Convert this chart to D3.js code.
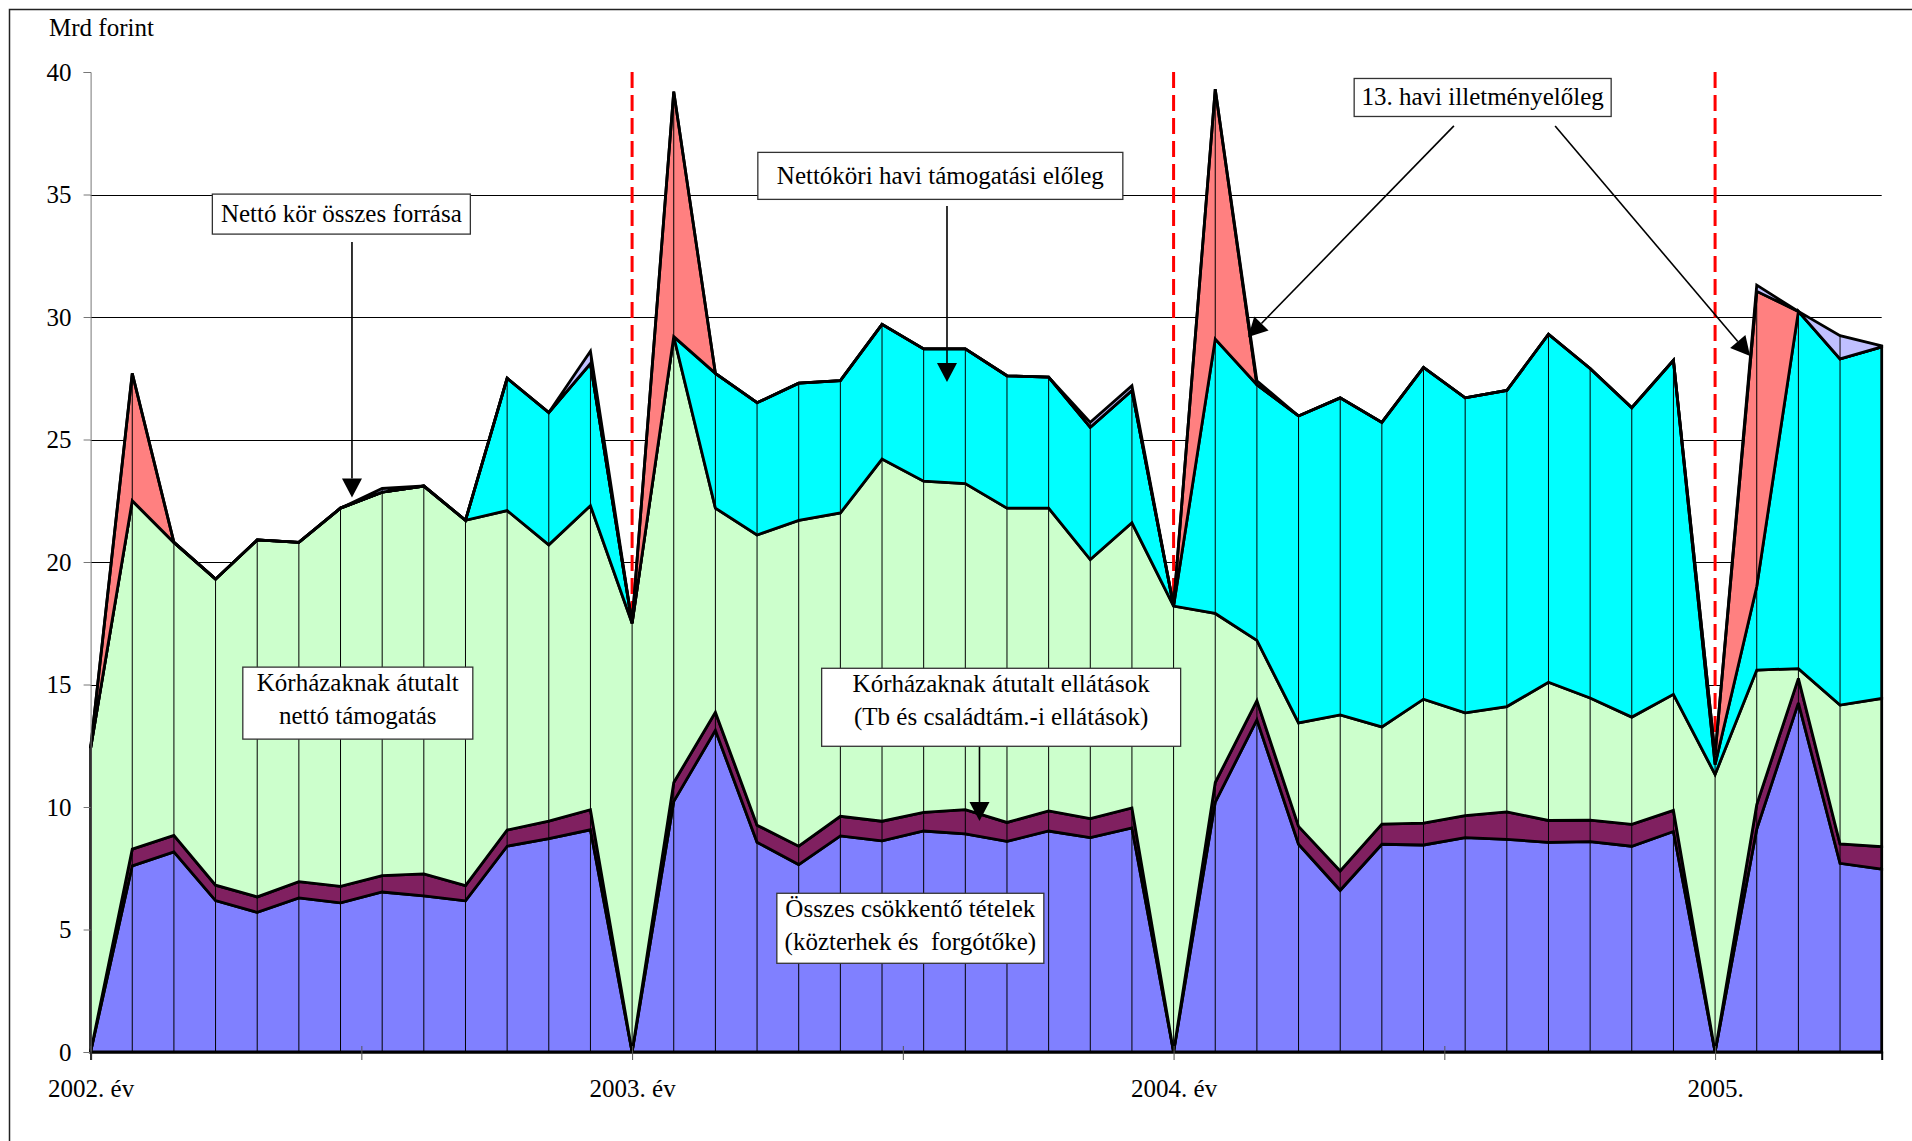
<!DOCTYPE html>
<html>
<head>
<meta charset="utf-8">
<script src="https://cdn.jsdelivr.net/npm/d3@7"></script>
<style>
  body { margin: 0; background: #fff; }
  text { font-family: "Liberation Serif", "Times New Roman", serif; font-size: 25px; fill: #000; }
</style>
</head>
<body>
<script>
// periodusok: evente 13 pont (nyito + 12 honap)
const categories = [
  "2002.00","2002.01","2002.02","2002.03","2002.04","2002.05","2002.06","2002.07","2002.08","2002.09","2002.10","2002.11","2002.12",
  "2003.00","2003.01","2003.02","2003.03","2003.04","2003.05","2003.06","2003.07","2003.08","2003.09","2003.10","2003.11","2003.12",
  "2004.00","2004.01","2004.02","2004.03","2004.04","2004.05","2004.06","2004.07","2004.08","2004.09","2004.10","2004.11","2004.12",
  "2005.00","2005.01","2005.02","2005.03","2005.04"
];

// Mrd forint, retegek vastagsaga (alulrol felfele)
const csokkentoTetelek = [
  0, 7.6, 8.17, 6.18, 5.7, 6.29, 6.09, 6.53, 6.37, 6.17, 8.4, 8.71, 9.07,
  0, 10.23, 13.13, 8.56, 7.65, 8.82, 8.62, 9.02, 8.9, 8.6, 9.02, 8.75, 9.15,
  0, 10.2, 13.56, 8.48, 6.6, 8.48, 8.45, 8.75, 8.68, 8.56, 8.59, 8.4, 9.0,
  0, 9.1, 14.25, 7.7, 7.46
];
const atutaltEllatasok = [
  0, 0.68, 0.67, 0.63, 0.63, 0.66, 0.67, 0.67, 0.9, 0.62, 0.66, 0.71, 0.82,
  0, 0.77, 0.74, 0.7, 0.75, 0.8, 0.8, 0.76, 0.99, 0.77, 0.82, 0.78, 0.81,
  0, 0.8, 0.78, 0.73, 0.79, 0.82, 0.89, 0.9, 1.12, 0.89, 0.87, 0.89, 0.86,
  0, 1.0, 1.0, 0.79, 0.92
];
const nettoTamogatas = [
  12.4, 14.22, 11.96, 12.49, 14.57, 13.85, 15.44, 15.65, 15.83, 14.91, 13.04, 11.28, 12.41,
  17.5, 18.2, 8.33, 11.84, 13.3, 12.38, 14.78, 13.52, 13.31, 12.83, 12.36, 10.57, 11.64,
  18.2, 6.9, 2.46, 4.22, 6.37, 3.97, 5.06, 4.19, 4.3, 5.64, 4.99, 4.38, 4.74,
  11.33, 5.49, 0.4, 5.67, 6.05
];
const haviEloleg = [
  0, 0, 0, 0, 0, 0, 0, 0, 0, 0, 5.4, 5.4, 5.8,
  0, 0, 5.5, 5.4, 5.6, 5.4, 5.5, 5.4, 5.5, 5.4, 5.35, 5.4, 5.4,
  0, 11.2, 10.44, 12.53, 12.94, 12.43, 13.54, 12.86, 12.9, 14.21, 13.45, 12.63, 13.63,
  0.4, 3.41, 14.58, 14.13, 14.35
];
const illetmenyEloleg = [
  0, 5.2, 0, 0, 0, 0, 0, 0, 0, 0, 0, 0, 0,
  0, 10.0, 0, 0, 0, 0, 0, 0, 0, 0, 0, 0, 0,
  0, 10.2, 0, 0, 0, 0, 0, 0, 0, 0, 0, 0, 0,
  0.4, 12.05, 0, 0, 0
];
const egyeb = [
  0, 0, 0, 0, 0, 0, 0, 0.15, 0, 0, 0, 0, 0.5,
  0, 0, 0, 0, 0, 0, 0, 0, 0, 0, 0, 0.2, 0.2,
  0, 0, 0.16, 0, 0, 0, 0, 0, 0, 0, 0, 0, 0,
  0, 0.25, 0, 0.95, 0.04
];

const yTicks = [0, 5, 10, 15, 20, 25, 30, 35, 40];
const yearTicks = ["2002.00", "2003.00", "2004.00", "2005.00"];
const yearLabels = ["2002. év", "2003. év", "2004. év", "2005."];

const WIDTH = 1912;
const HEIGHT = 1141;

const svg = d3.select("body").append("svg")
  .attr("width", WIDTH)
  .attr("height", HEIGHT);

// keret (csak bal es felso el latszik)
svg.append("path")
  .attr("d", "M9.5,1141 V9.5 H1912")
  .attr("fill", "none")
  .attr("stroke", "#222")
  .attr("stroke-width", 1.5);

svg.append("text").attr("x", 49).attr("y", 36).text("Mrd forint");

const x = d3.scaleLinear().domain([0, categories.length - 1]).range([90.6, 1881.7]);
const y = d3.scaleLinear().domain([0, 40]).range([1052, 72]);

// racsvonalak
svg.append("g").selectAll("line")
  .data(yTicks.filter(t => t > 0 && t < 40))
  .enter().append("line")
  .attr("x1", x(0)).attr("x2", x(categories.length - 1))
  .attr("y1", d => Math.round(y(d)) + 0.5).attr("y2", d => Math.round(y(d)) + 0.5)
  .attr("stroke", "#000").attr("stroke-width", 1);

// evhatarok - piros szaggatott
const yearIdx = yearTicks.map(t => categories.indexOf(t));
svg.append("g").selectAll("line")
  .data(yearIdx.slice(1))
  .enter().append("line")
  .attr("x1", d => x(d)).attr("x2", d => x(d))
  .attr("y1", y(40)).attr("y2", y(0))
  .attr("stroke", "#ff0000").attr("stroke-width", 3)
  .attr("stroke-dasharray", "16,7");

// stack
const keys = ["csokkento", "ellatas", "netto", "havi", "illetmeny", "egyeb"];
const colors = {
  csokkento: "#8080ff",
  ellatas: "#802060",
  netto: "#ccffcc",
  havi: "#00ffff",
  illetmeny: "#ff8080",
  egyeb: "#c0c0ff"
};
const table = categories.map((c, i) => ({
  cat: c,
  csokkento: csokkentoTetelek[i],
  ellatas: atutaltEllatasok[i],
  netto: nettoTamogatas[i],
  havi: haviEloleg[i],
  illetmeny: illetmenyEloleg[i],
  egyeb: egyeb[i]
}));
const series = d3.stack().keys(keys)(table);

const area = d3.area()
  .x((d, i) => x(i))
  .y0(d => y(d[0]))
  .y1(d => y(d[1]));

svg.append("g").selectAll("path")
  .data(series)
  .enter().append("path")
  .attr("d", area)
  .attr("fill", d => colors[d.key])
  .attr("stroke", "#000")
  .attr("stroke-width", 2.8)
  .attr("stroke-linejoin", "miter")
  .attr("stroke-miterlimit", 3);

// ejtovonalak minden pontnal
const topLayer = series[series.length - 1];
svg.append("g").selectAll("line")
  .data(topLayer)
  .enter().append("line")
  .attr("x1", (d, i) => x(i)).attr("x2", (d, i) => x(i))
  .attr("y1", y(0)).attr("y2", d => y(d[1]))
  .attr("stroke", "#000").attr("stroke-width", 1);

// tengelyek
const yAxis = svg.append("g")
  .attr("transform", `translate(${x(0)},0)`)
  .call(d3.axisLeft(y).tickValues(yTicks).tickSize(7).tickPadding(12));
yAxis.select(".domain").attr("stroke", "#777");
yAxis.selectAll(".tick line").attr("stroke", "#777");
yAxis.selectAll("text").style("font-size", "25px").attr("font-family", null);

const midIdx = yearIdx.slice(0, -1).map(i => i + 6.5);
const xAxis = svg.append("g")
  .attr("transform", `translate(0,${y(0)})`)
  .call(d3.axisBottom(x)
    .tickValues(yearIdx.concat(midIdx))
    .tickSize(8)
    .tickPadding(19)
    .tickFormat(v => {
      const k = yearIdx.indexOf(v);
      return k >= 0 ? yearLabels[k] : "";
    }));
xAxis.select(".domain").attr("stroke", "#000").attr("stroke-width", 2);
xAxis.selectAll(".tick line").attr("y1", -6).attr("stroke", "#555");
xAxis.selectAll("text").style("font-size", "25px").attr("font-family", null);

// feliratok
const notes = [
  { lines: ["Nettó kör összes forrása"], cx: 6.02, cy: 34.2, w: 258, h: 40 },
  { lines: ["Kórházaknak átutalt", "nettó támogatás"], cx: 6.415, cy: 14.24, w: 230, h: 72 },
  { lines: ["Nettóköri havi támogatási előleg"], cx: 20.4, cy: 35.76, w: 365, h: 47 },
  { lines: ["Kórházaknak átutalt ellátások", "(Tb és családtám.-i ellátások)"], cx: 21.86, cy: 14.07, w: 359, h: 78 },
  { lines: ["Összes csökkentő tételek", "(közterhek és\u00a0 forgótőke)"], cx: 19.68, cy: 5.05, w: 267, h: 70 },
  { lines: ["13. havi illetményelőleg"], cx: 33.42, cy: 38.96, w: 257, h: 38 }
];
const arrows = [
  { from: [6.275, 33.06], to: [6.275, 22.63] },
  { from: [20.56, 34.53], to: [20.56, 27.35] },
  { from: [21.34, 12.46], to: [21.34, 9.43] },
  { from: [32.73, 37.8], to: [27.79, 29.18] },
  { from: [35.16, 37.8], to: [39.84, 28.41] }
];

const ann = svg.append("g");
arrows.forEach(a => {
  const x1 = x(a.from[0]), y1 = y(a.from[1]);
  const x2 = x(a.to[0]), y2 = y(a.to[1]);
  const len = Math.hypot(x2 - x1, y2 - y1);
  const ux = (x2 - x1) / len, uy = (y2 - y1) / len;
  const hl = 19, hw = 10;
  const bx = x2 - ux * hl, by = y2 - uy * hl;
  ann.append("line")
    .attr("x1", x1).attr("y1", y1).attr("x2", bx).attr("y2", by)
    .attr("stroke", "#000").attr("stroke-width", 1.6);
  ann.append("path")
    .attr("d", `M${x2},${y2} L${bx - uy * hw},${by + ux * hw} L${bx + uy * hw},${by - ux * hw} Z`)
    .attr("fill", "#000");
});

notes.forEach(n => {
  const cx = x(n.cx), cy = y(n.cy);
  const boxTop = cy - n.h / 2;
  ann.append("rect")
    .attr("x", cx - n.w / 2).attr("y", boxTop)
    .attr("width", n.w).attr("height", n.h)
    .attr("fill", "#fff").attr("stroke", "#333").attr("stroke-width", 1.3);
  // elso sor alapvonala ~25px-re a doboz tetejetol
  const first = n.lines.length > 1 ? boxTop + 24 : cy + 8;
  n.lines.forEach((t, k) => {
    ann.append("text")
      .attr("x", cx)
      .attr("y", first + k * 32.5)
      .attr("text-anchor", "middle")
      .text(t);
  });
});
</script>
</body>
</html>
